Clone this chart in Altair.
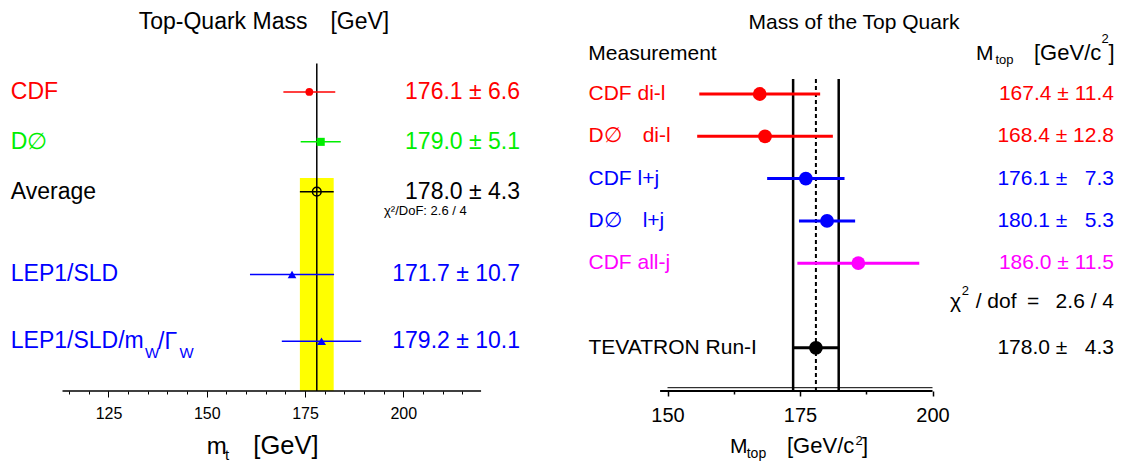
import altair as alt
import pandas as pd

FONT = "Liberation Sans"

# ---------------- left panel: Top-Quark Mass ----------------
left_names = ["CDF", "D\u2205", "Average", "LEP1/SLD", "LEP1/SLD/mW/GW"]
left_mass = [176.1, 179.0, 178.0, 171.7, 179.2]
left_err = [6.6, 5.1, 4.3, 10.7, 10.1]
left_row = [0, 1, 2, 3.66, 5]
left_major_ticks = [125, 150, 175, 200]
left_minor_ticks = list(range(115, 220, 5))
left_axis_range = [113.3, 219.8]
left_chi2 = "\u03c7\u00b2/DoF: 2.6 / 4"

# ---------------- right panel: Mass of the Top Quark ----------------
right_names = ["CDF di-l", "D\u2205 di-l", "CDF l+j", "D\u2205 l+j", "CDF all-j", "TEVATRON Run-I"]
right_mass = [167.4, 168.4, 176.1, 180.1, 186.0, 178.0]
right_err = [11.4, 12.8, 7.3, 5.3, 11.5, 4.3]
right_row = [0, 1, 2, 3, 4, 6]
right_major_ticks = [150, 175, 200]
right_minor_ticks = [162.5, 187.5]
right_axis_range = [148.6, 200]
right_chi2 = "/ dof\u2002=\u2002 2.6 / 4"
avg_mass, avg_err = 178.0, 4.3

# ---------------- styles ----------------
LEFT_COLORS = ["#ff0000", "#00ee00", "#000000", "#0000ff", "#0000ff"]
LEFT_SHAPES = ["circle", "square", "circle", "triangle-up", "triangle-up"]
LEFT_SIZES = [60, 80, 75, 65, 65]
RIGHT_COLORS = ["#ff0000", "#ff0000", "#0000ff", "#0000ff", "#ff00ff", "#000000"]

W, H = 1107, 383

left_df = pd.DataFrame({"name": left_names, "mass": left_mass, "err": left_err, "row": left_row})
left_df["lo"] = left_df["mass"] - left_df["err"]
left_df["hi"] = left_df["mass"] + left_df["err"]
left_df["label"] = [n if n != "LEP1/SLD/mW/GW" else "LEP1/SLD/m" for n in left_names]
left_df["value"] = [f"{m:.1f} \u00b1 {e:.1f}" for m, e in zip(left_mass, left_err)]


def fmt_err(e):
    s = f"{e:.1f}"
    return s if len(s) >= 4 else "\u2007" + s


right_df = pd.DataFrame({"name": right_names, "mass": right_mass, "err": right_err, "row": right_row})
right_df["lo"] = right_df["mass"] - right_df["err"]
right_df["hi"] = right_df["mass"] + right_df["err"]
right_df["label"] = [n.replace("\u2205 ", "\u2205\u2003") for n in right_names]
right_df["value"] = [f"{m:.1f} \u00b1 {fmt_err(e)}" for m, e in zip(right_mass, right_err)]

avg_df = pd.DataFrame({"m": [avg_mass], "lo": [avg_mass - avg_err], "hi": [avg_mass + avg_err]})
DUMMY = pd.DataFrame({"a": [0]})

# ---------------- scales / axes ----------------
LXS = alt.Scale(domain=[99.43, 381.1], nice=False, zero=False)
RXS = alt.Scale(domain=[25.57, 234.43], nice=False, zero=False)
LYS = alt.Scale(domain=[-1.685, 5.998], reverse=True, nice=False, zero=False)
RYS = alt.Scale(domain=[-2.033, 7.021], reverse=True, nice=False, zero=False)

L_AX = alt.Axis(values=left_major_ticks, tickSize=6, tickWidth=1, tickColor="black",
                domain=False, grid=False, labelFontSize=16, labelColor="black",
                labelPadding=8, labelFont=FONT, labelOverlap=False, labelFlush=False,
                title=None, format="d", orient="bottom")
L_AXM = alt.Axis(values=left_minor_ticks, tickSize=3, tickWidth=1, tickColor="black",
                 domain=False, grid=False, labels=False, title=None, orient="bottom")
R_AX = alt.Axis(values=right_major_ticks, tickSize=5, tickWidth=1.5, tickColor="black",
                domain=False, grid=False, labelFontSize=20, labelColor="black",
                labelPadding=9, labelFont=FONT, labelOverlap=False, labelFlush=False,
                title=None, format="d", orient="bottom")
R_AXM = alt.Axis(values=right_minor_ticks, tickSize=3, tickWidth=1.5, tickColor="black",
                 domain=False, grid=False, labels=False, title=None, orient="bottom")


def lx(f, ax=L_AX):
    return alt.X(f"{f}:Q", scale=LXS, axis=ax)


def rx(f, ax=R_AX):
    return alt.X(f"{f}:Q", scale=RXS, axis=ax)


def ly():
    return alt.Y("row:Q", scale=LYS, axis=None)


def ry():
    return alt.Y("row:Q", scale=RYS, axis=None)


LCOL = alt.Color("name:N", scale=alt.Scale(domain=left_names, range=LEFT_COLORS), legend=None)
RCOL = alt.Color("name:N", scale=alt.Scale(domain=right_names, range=RIGHT_COLORS), legend=None)


def txt(s, x, y, size, align="left", baseline="alphabetic", color="black"):
    return alt.Chart(DUMMY).mark_text(text=s, fontSize=size, align=align, baseline=baseline,
                                      color=color, font=FONT).encode(x=alt.value(x), y=alt.value(y))


# ---------------- left panel layers ----------------
l_band = alt.Chart(avg_df).mark_rect(color="#ffff00").encode(
    x=lx("lo"), x2="hi", y=alt.value(170), y2=alt.value(H))
l_vline = alt.Chart(avg_df).mark_rule(color="black", strokeWidth=1.5).encode(
    x=lx("m"), y=alt.value(55.5), y2=alt.value(H))
l_bars = alt.Chart(left_df).mark_rule(strokeWidth=1.5).encode(
    x=lx("lo"), x2="hi", y=ly(), color=LCOL)
l_pts = alt.Chart(left_df).transform_filter(alt.datum.name != "Average").mark_point(
    filled=True, opacity=1).encode(
    x=lx("mass"), y=ly(), color=LCOL,
    shape=alt.Shape("name:N", scale=alt.Scale(domain=left_names, range=LEFT_SHAPES), legend=None),
    size=alt.Size("name:N", scale=alt.Scale(domain=left_names, range=LEFT_SIZES), legend=None))
l_open = alt.Chart(left_df).transform_filter(alt.datum.name == "Average").mark_point(
    shape="circle", filled=False, size=75, strokeWidth=1.5, color="black", opacity=1).encode(
    x=lx("mass"), y=ly())
l_labels = alt.Chart(left_df).mark_text(align="left", baseline="middle", fontSize=23, font=FONT).encode(
    x=alt.value(2.8), y=ly(), text="label:N", color=LCOL)
l_values = alt.Chart(left_df).mark_text(align="right", baseline="middle", fontSize=23, font=FONT).encode(
    x=alt.value(512), y=ly(), text="value:N", color=LCOL)

l_texts = [
    txt("Top-Quark Mass\u2003[GeV]", 256, 20.8, 23, align="center"),
    txt(left_chi2, 376, 202.7, 13, baseline="middle"),
    txt("m", 198.7, 446, 24),
    txt("t", 217, 452, 15),
    txt("[GeV]", 245.3, 446, 25.5),
    txt("W", 137, 350.3, 15, color="#0000ff"),
    txt("/\u0393", 150, 341.3, 23, color="#0000ff"),
    txt("W", 171.5, 350.3, 15, color="#0000ff"),
]

L_major = alt.layer(l_band, l_vline, l_bars, l_pts, l_open, l_labels, l_values, *l_texts)

l_axis_df = pd.DataFrame({"a": [left_axis_range[0]], "b": [left_axis_range[1]]})
L_minor = alt.Chart(l_axis_df).mark_rule(color="black", strokeWidth=1.5).encode(
    x=lx("a", L_AXM), x2="b", y=alt.value(H))

# ---------------- right panel layers ----------------
r_solid = alt.Chart(avg_df).transform_fold(["lo", "hi"], as_=["k", "v"]).mark_rule(
    color="black", strokeWidth=2.5).encode(x=rx("v"), y=alt.value(71), y2=alt.value(H))
r_dot = alt.Chart(avg_df).mark_rule(color="black", strokeWidth=2, strokeDash=[4, 3]).encode(
    x=rx("m"), y=alt.value(71), y2=alt.value(H))
r_bars = alt.Chart(right_df).mark_rule(strokeWidth=3).encode(
    x=rx("lo"), x2="hi", y=ry(), color=RCOL)
r_pts = alt.Chart(right_df).mark_circle(size=190, opacity=1).encode(
    x=rx("mass"), y=ry(), color=RCOL)
r_labels = alt.Chart(right_df).mark_text(align="left", baseline="middle", fontSize=21, font=FONT).encode(
    x=alt.value(580.5), y=ry(), text="label:N", color=RCOL)
r_values = alt.Chart(right_df).mark_text(align="right", baseline="middle", fontSize=21, font=FONT).encode(
    x=alt.value(1106), y=ry(), text="value:N", color=RCOL)
r_axis_df = pd.DataFrame({"a": [right_axis_range[0]], "b": [right_axis_range[1]]})
r_axline = alt.Chart(r_axis_df).mark_rule(color="black", strokeWidth=2).encode(
    x=rx("a"), x2="b", y=alt.value(H))
r_axline2 = alt.Chart(pd.DataFrame({"a": [150], "b": [200]})).mark_rule(color="black", strokeWidth=1).encode(
    x=rx("a"), x2="b", y=alt.value(379.7))

r_texts = [
    txt("Mass of the Top Quark", 846, 21.3, 21, align="center"),
    txt("Measurement", 580.3, 52, 21),
    txt("M", 968, 52, 21),
    txt("top", 987.5, 56, 13),
    txt("[GeV/c", 1026, 52, 22),
    txt("2", 1093.5, 35.3, 13),
    txt("]", 1100.5, 52, 22),
    txt("\u03c7", 942, 300.3, 21),
    txt("2", 953.7, 287, 13),
    txt(right_chi2, 1106, 300.3, 21, align="right"),
    txt("M", 722, 445.3, 21),
    txt("top", 738.7, 449.5, 14),
    txt("[GeV/c", 779, 445.3, 22),
    txt("2", 847.5, 437, 13),
    txt("]", 854, 445.3, 22),
]

R_major = alt.layer(r_solid, r_dot, r_bars, r_pts, r_labels, r_values, r_axline, r_axline2, *r_texts)

R_minor = alt.Chart(pd.DataFrame({"a": [150], "b": [200]})).mark_rule(
    color="black", strokeWidth=1, opacity=0).encode(x=rx("a", R_AXM), x2="b", y=alt.value(H))

chart = alt.layer(L_major, L_minor, R_major, R_minor).resolve_scale(
    x="independent", y="independent", color="independent", shape="independent", size="independent"
).properties(
    width=W, height=H,
    padding={"left": 0, "top": 0, "right": 0, "bottom": 72},
    autosize=alt.AutoSizeParams(type="none")
).configure_view(stroke=None)

chart.save("out.html", embed_options={"renderer": "svg", "actions": False})
